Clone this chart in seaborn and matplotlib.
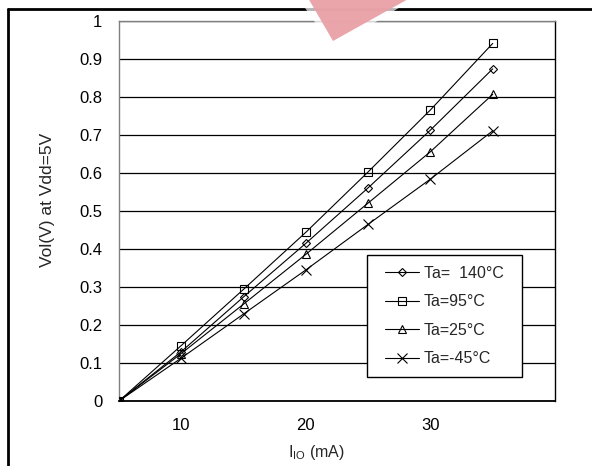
import seaborn as sns
import matplotlib.pyplot as plt
import pandas as pd
from matplotlib.patches import Rectangle, Polygon
from matplotlib.lines import Line2D

# data
current = [5, 10, 15, 20, 25, 30, 35]
vol_140 = [0, 0.130, 0.274, 0.415, 0.561, 0.713, 0.874]
vol_95 = [0, 0.146, 0.294, 0.444, 0.603, 0.766, 0.941]
vol_25 = [0, 0.125, 0.255, 0.386, 0.521, 0.656, 0.807]
vol_m45 = [0, 0.113, 0.229, 0.345, 0.465, 0.584, 0.711]
series_labels = ["Ta=  140°C", "Ta=95°C", "Ta=25°C", "Ta=-45°C"]
x_tick_labels = ["10", "20", "30"]
y_ticks = [0, 0.1, 0.2, 0.3, 0.4, 0.5, 0.6, 0.7, 0.8, 0.9, 1]

sns.set_theme(style="white")
plt.rcParams["font.family"] = ["Liberation Sans", "DejaVu Sans"]
plt.rcParams["mathtext.fontset"] = "custom"
plt.rcParams["mathtext.rm"] = "Liberation Sans"

fig = plt.figure(figsize=(5.92, 4.66), dpi=100)
ax = fig.add_axes([119 / 592, 65 / 466, 436 / 592, 380 / 466])

markers = ["D", "s", "^", "x"]
sizes = [4.5, 5.5, 5.5, 6.5]
for vals, lab, m, ms in zip([vol_140, vol_95, vol_25, vol_m45], series_labels, markers, sizes):
    df = pd.DataFrame({"I": current, "V": vals})
    sns.lineplot(data=df, x="I", y="V", ax=ax, color="black", lw=0.8,
                 marker=m, ms=ms, mfc="none", mec="black", mew=0.8,
                 label=lab, zorder=3)

ax.set_xlim(5, 40)
ax.set_ylim(0, 1)
ax.set_yticks(y_ticks)
ax.set_yticklabels([f"{v:g}" for v in y_ticks])
ax.tick_params(axis="y", length=0, pad=12, labelsize=12, colors="black")

# tick marks between labels, labels without marks
ax.set_xticks([5, 15, 25, 35])
ax.set_xticklabels([])
ax.tick_params(axis="x", which="major", length=4, width=1, color="#808080", direction="out")
ax.set_xticks([int(t) for t in x_tick_labels], minor=True)
ax.set_xticklabels(x_tick_labels, minor=True)
ax.tick_params(axis="x", which="minor", length=0, pad=12, labelsize=12, labelcolor="black")

ax.yaxis.grid(True, color="black", lw=0.9)
ax.set_axisbelow(True)
ax.spines["left"].set_color("#808080")
ax.spines["top"].set_color("#808080")
ax.spines["right"].set_color("black")
ax.spines["bottom"].set_color("black")
for s in ax.spines.values():
    s.set_linewidth(1)
ax.spines["bottom"].set_linewidth(1.3)

ax.set_xlabel(r"I$_{\mathregular{IO}}$ (mA)", fontsize=11.5)
ax.xaxis.set_label_coords(0.454, -0.11)
ax.set_ylabel("Vol(V) at Vdd=5V", fontsize=12.5)
ax.yaxis.set_label_coords(-0.147, 0.53)

# legend with a square box
ax.add_patch(Rectangle((0.569, 0.063), 0.3555, 0.321, transform=ax.transAxes,
                       facecolor="white", edgecolor="black", lw=1, zorder=4))
leg = ax.legend(loc="center", bbox_to_anchor=(0.7466, 0.2237), frameon=False,
                fontsize=11.5, handlelength=2.1, handletextpad=0.3,
                labelspacing=0.85, borderpad=0.2)
leg.set_zorder(5)

# page border pieces
fig.add_artist(Line2D([8 / 592, 1], [1 - 9 / 466, 1 - 9 / 466], color="black", lw=2))
fig.add_artist(Line2D([8 / 592, 8 / 592], [0, 1 - 9 / 466], color="black", lw=2))

# watermark
pts = [(296, -5), (333, 48), (420, -5)]
fig.add_artist(Polygon([(x / 592, 1 - y / 466) for x, y in pts], closed=True,
                       facecolor="white", edgecolor="none", alpha=0.7, zorder=6))
pts = [(308, -2), (333, 41), (410, -2)]
fig.add_artist(Polygon([(x / 592, 1 - y / 466) for x, y in pts], closed=True,
                       facecolor="#e9a0a6", edgecolor="none", alpha=0.95, zorder=7))

fig.savefig("out.png", dpi=100)
